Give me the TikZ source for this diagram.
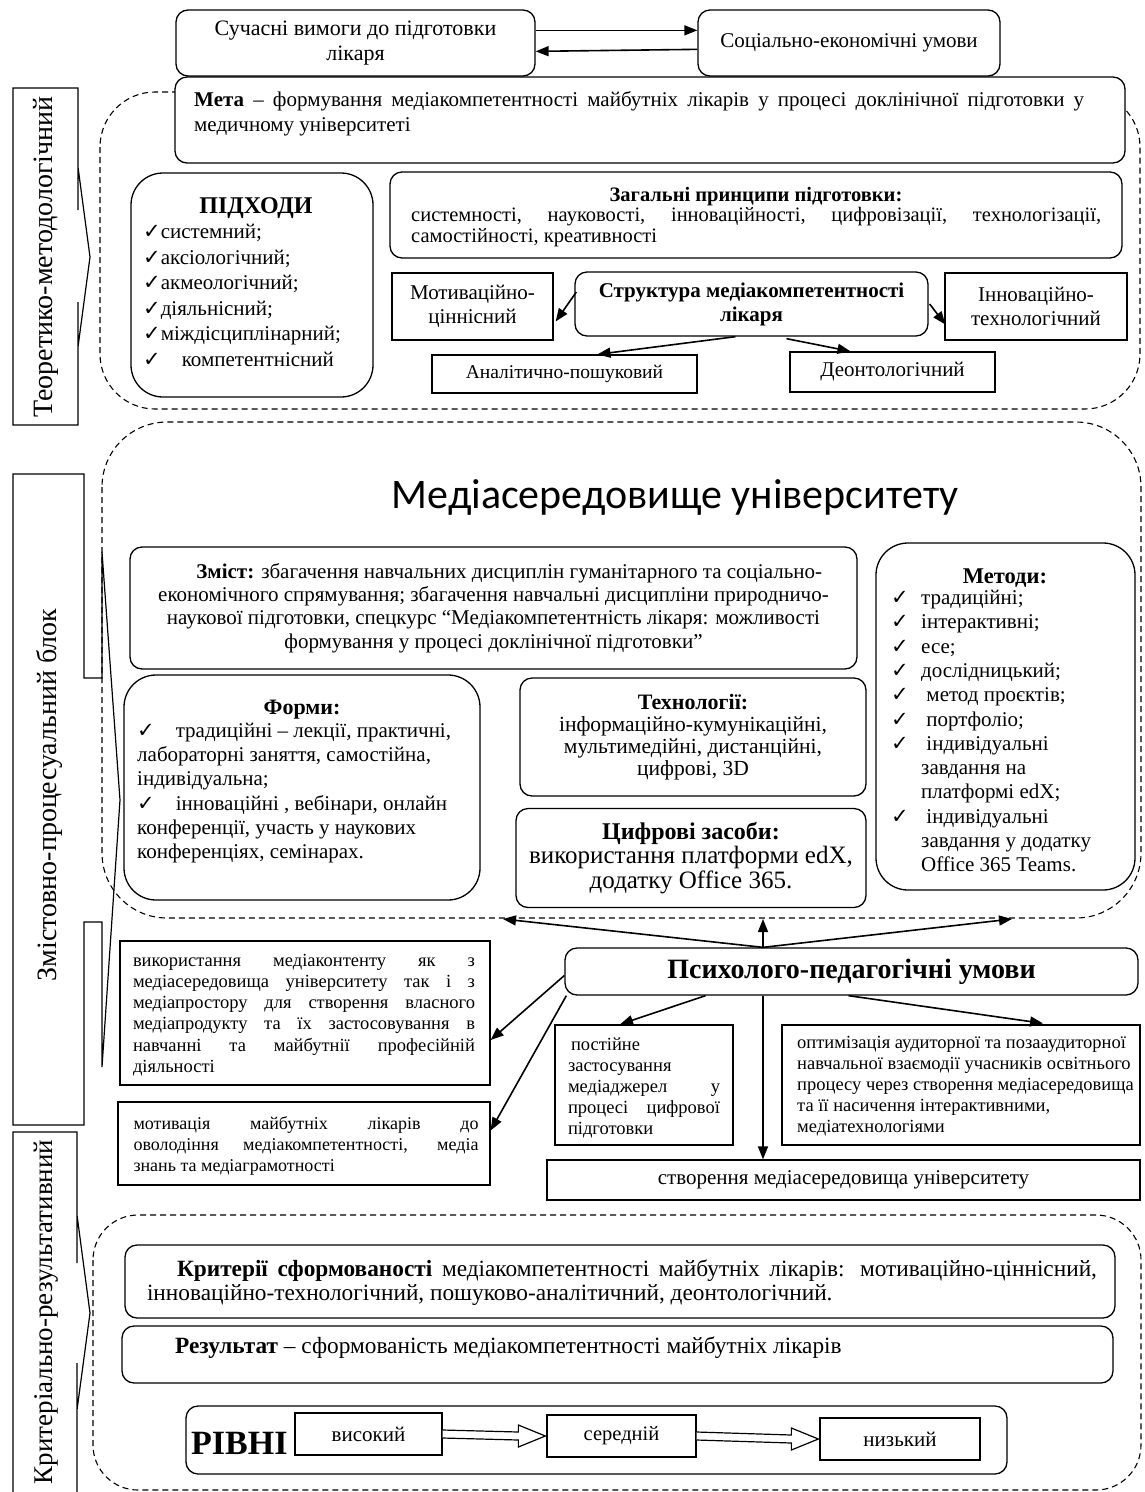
\documentclass[tikz,border=0pt]{standalone}
\usepackage{fontspec}
\setmainfont{Liberation Serif}
\newfontfamily\carlito{Carlito}
\newfontfamily\dejavu{DejaVu Sans}
\usetikzlibrary{arrows.meta,calc}
\newcommand\chk{{\dejavu\symbol{"2713}}}
\newcommand\fs[2]{\fontsize{#1}{#2}\selectfont}
\newcommand\ck{\makebox[30pt][l]{\chk}}
\newcommand\ind{\hspace*{30pt}}
\begin{document}
\begin{tikzpicture}[x=1pt,y=-1pt,
  box/.style={draw, line width=1.3pt, fill=white, inner sep=0pt, align=center},
  rbox/.style={box, rounded corners=12pt},
  rrbox/.style={box, rounded corners=32pt},
  region/.style={draw, dash pattern=on 6pt off 4pt, line width=1.1pt, rounded corners=55pt},
  arr/.style={line width=1.6pt, -{Triangle[length=13pt,width=10pt]}},
  lbl/.style={inner sep=0pt},
  side/.style={line width=1.2pt, line join=miter},
  hollow/.style={draw, line width=1.2pt, fill=white, line join=miter}]
\useasboundingbox (0,0) rectangle (1145,1492);

% ---------- left side labels ----------
\draw[side] (13,88) -- (78,88) -- (78,210) -- (78,167) -- (90,257) -- (78,347) -- (78,302) -- (78,425) -- (13,425) -- cycle;
\node[lbl, rotate=90, font=\fs{28}{30}] (lab1) at (46,257) {Теоретико-методологічний};
\draw[side] (13,474) -- (84,474) -- (84,678) -- (102,678) -- (102,552) -- (120,800) -- (102,1067) -- (102,922) -- (84,922) -- (84,1125) -- (13,1125) -- cycle;
\node[lbl, rotate=90, font=\fs{28}{30}] (lab2) at (49,795) {Змістовно-процесуальний блок};
\draw[side] (13,1132) -- (77,1132) -- (77,1263) -- (77,1215) -- (90,1313) -- (77,1410) -- (77,1363) -- (77,1500) -- (13,1500) -- cycle;
\node[lbl, rotate=90, font=\fs{27}{30}] (lab3) at (46,1312) {Критеріально-результативний};

% ---------- dashed regions ----------
\draw[region] (100,92) rectangle (1140,409);
\draw[region, rounded corners=65pt] (102,422) rectangle (1141,918);
\draw[region, rounded corners=45pt] (93,1215) rectangle (1141,1490);

% ---------- top ----------
\node[rbox, minimum width=359pt, minimum height=66pt, font=\fs{22}{25}] (req) at (355.5,43) {Сучасні вимоги до підготовки\\лікаря};
\node[rbox, minimum width=302pt, minimum height=66pt, font=\fs{21}{24}] (soc) at (849,43) {Соціально-економічні умови};
\draw[arr] ($(req.north east)+(0,21)$) -- ($(soc.north west)+(0,21)$);
\draw[arr] ($(soc.north west)+(0,40)$) -- ($(req.north east)+(0,42)$);

% ---------- theoretical block ----------
\node[rbox, minimum width=950pt, minimum height=86pt] (meta) at (650,120) {};
\node[lbl, anchor=north west, text width=890pt, align=justify, font=\fs{21}{25}] (metaT) at (194,91)
  {\textbf{Мета} – формування медіакомпетентності майбутніх лікарів у процесі доклінічної підготовки у\linebreak медичному університеті};

\node[rrbox, minimum width=242pt, minimum height=224pt] (pidh) at (252,285) {};
\node[lbl, font=\bfseries\fs{24}{26}] (pidhT) at (256,208) {ПІДХОДИ};
\node[lbl, anchor=north west, align=left, font=\fs{21}{25.6}] (pidhL) at (143,224)
  {\chk системний;\\ \chk аксіологічний;\\ \chk акмеологічний;\\ \chk діяльнісний;\\ \chk міждісциплінарний;\\ \chk\quad компетентнісний};

\node[rbox, minimum width=732pt, minimum height=86pt] (zag) at (756,215) {};
\node[lbl, font=\bfseries\fs{20.5}{22}] (zagT) at (756,197) {Загальні принципи підготовки:};
\node[lbl, anchor=north west, text width=690pt, align=justify, font=\fs{20.5}{21}] (zagL) at (411,207)
  {системності, науковості, інноваційності, цифровізації, технологізації,\linebreak самостійності, креативності};

\node[box, minimum width=161pt, minimum height=67pt, font=\fs{21}{24}] (motiv) at (472.5,306.5) {Мотиваційно-\\ціннісний};
\node[rbox, minimum width=353pt, minimum height=64pt, font=\bfseries\fs{21}{24}] (strukt) at (751.5,304) {Структура медіакомпетентності\\лікаря};
\node[box, minimum width=182pt, minimum height=67pt, font=\fs{21}{24}] (innov) at (1036,306.5) {Інноваційно-\\технологічний};
\node[box, minimum width=265pt, minimum height=38pt, font=\fs{19.5}{23}] (anal) at (564.5,374) {Аналітично-пошуковий};
\node[box, minimum width=205pt, minimum height=40pt, font=\fs{21}{23}] (deon) at (892.5,372) {Деонтологічний};
\draw[arr] ($(strukt.west)+(2,-12)$) -- ($(motiv.east)+(2,15)$);
\draw[arr] ($(strukt.east)+(1,0)$) -- ($(innov.west)+(1,18)$);
\draw[arr] ($(strukt.south)+(-16,0)$) -- ($(anal.north)+(33,0)$);
\draw[arr] ($(strukt.south)+(35,2)$) -- ($(deon.north)+(-42,0)$);

% ---------- media block ----------
\node[lbl, font=\carlito\fs{42}{46}] (media) at (675,497) {Медіасередовище університету};

\node[rbox, minimum width=727pt, minimum height=122pt, font=\fs{21}{23.3}] (zmist) at (493.5,608)
  {\hspace*{1.5em}\textbf{Зміст:} збагачення навчальних дисциплін гуманітарного та соціально-\\
   економічного спрямування; збагачення навчальні дисципліни природничо-\\
   наукової підготовки, спецкурс “Медіакомпетентність лікаря: можливості\\
   формування у процесі доклінічної підготовки”};

\node[rrbox, minimum width=259pt, minimum height=347pt] (metody) at (1005.5,716.5) {};
\node[lbl, font=\bfseries\fs{22.5}{24}] (metodyT) at (1005,578) {Методи:};
\node[lbl, anchor=north west, align=left, font=\fs{21}{24.3}] (metodyL) at (891,590)
  {\ck традиційні;\\ \ck інтерактивні;\\ \ck есе;\\ \ck дослідницький;\\ \ck\ метод проєктів;\\ \ck\ портфоліо;\\
   \ck\ індивідуальні\\ \ind завдання на\\ \ind платформі edX;\\ \ck\ індивідуальні\\ \ind завдання у додатку\\ \ind Office 365 Teams.};

\node[rrbox, minimum width=356pt, minimum height=225pt] (formy) at (302,787.5) {};
\node[lbl, font=\bfseries\fs{22}{24}] (formyT) at (302,710) {Форми:};
\node[lbl, anchor=north west, align=left, font=\fs{21}{24.2}] (formyL) at (137,723)
  {\chk\quad традиційні – лекції, практичні,\\ лабораторні заняття, самостійна,\\ індивідуальна;\\
   \chk\quad інноваційні , вебінари, онлайн\\ конференції, участь у наукових\\ конференціях, семінарах.};

\node[rbox, minimum width=346pt, minimum height=118pt, font=\fs{21.5}{21.8}] (tech) at (693,737)
  {{\bfseries\fs{22}{25}Технології:}\\ інформаційно-кумунікаційні,\\ мультимедійні, дистанційні,\\ цифрові, 3D};
\node[rbox, minimum width=350pt, minimum height=99pt, font=\fs{25}{24.5}] (cyfr) at (691,858)
  {{\bfseries\fs{24}{24.5}Цифрові засоби:}\\ використання платформи edX,\\ додатку Office 365.};

% ---------- psychological-pedagogical conditions ----------
\node[rbox, minimum width=573pt, minimum height=47pt, font=\bfseries\fs{28}{30}] (psych) at (851.5,971.5) {Психолого-педагогічні умови};
\coordinate (pTop) at ($(psych.north)+(-88.5,0)$);
\coordinate (upC) at (763,919);
\coordinate (upL) at (503,919);
\coordinate (upR) at (1012,919);
\draw[arr] (pTop) -- (upC);
\draw[arr] (pTop) -- (upL);
\draw[arr] (pTop) -- (upR);

\node[box, minimum width=370pt, minimum height=144pt] (vykor) at (305,1013) {};
\node[lbl, text width=342pt, align=justify, font=\fs{18.5}{21.3}] (vykorT) at (304,1015)
  {використання медіаконтенту як з\linebreak медіасередовища університету так і з\linebreak медіапростору для створення власного\linebreak медіапродукту та їх застосовування в\linebreak навчанні та майбутнії професійній\linebreak діяльності};
\node[box, minimum width=372pt, minimum height=83pt] (motyv) at (304,1143.5) {};
\node[lbl, text width=345pt, align=justify, font=\fs{18}{21}] (motyvT) at (306,1146)
  {мотивація майбутніх лікарів до\linebreak оволодіння медіакомпетентності, медіа\linebreak знань та медіаграмотності};
\node[box, minimum width=178pt, minimum height=120pt] (post) at (644,1085) {};
\node[lbl, text width=152pt, align=justify, font=\fs{18.5}{21}] (postT) at (644,1088)
  {\hspace*{3pt}постійне\\ застосування\\ медіаджерел у\linebreak процесі цифрової\linebreak підготовки};
\node[box, minimum width=358pt, minimum height=120pt] (optym) at (961,1085) {};
\node[lbl, anchor=west, align=left, font=\fs{18.5}{21}] (optymT) at (797,1086)
  {оптимізація аудиторної та позааудиторної\\ навчальної взаємодії учасників освітнього\\ процесу через створення медіасередовища\\ та її насичення інтерактивними,\\ медіатехнологіями};
\node[box, minimum width=593pt, minimum height=40pt, font=\fs{21}{22}] (stvor) at (843.5,1180) {створення медіасередовища університету};

\draw[arr] ($(psych.west)+(0,4)$) -- ($(vykor.east)+(0,27)$);
\draw[arr] ($(psych.south west)+(2,0)$) -- ($(motyv.east)+(0,-13)$);
\draw[arr] ($(psych.south)+(-146,0)$) -- ($(post.north)+(-24,0)$);
\draw[arr] (psych.south -| pTop) -- (stvor.north -| pTop);
\draw[arr] ($(psych.south)+(-3,0)$) -- ($(optym.north)+(82,-1)$);

% ---------- criterial block ----------
\node[rbox, minimum width=990pt, minimum height=73pt] (krit) at (620,1281.5) {};
\node[lbl, text width=950pt, align=justify, font=\fs{23.3}{24}] (kritT) at (622,1283)
  {\hspace*{30pt}\textbf{Критерії сформованості} медіакомпетентності майбутніх лікарів: мотиваційно-ціннісний,\linebreak інноваційно-технологічний, пошуково-аналітичний, деонтологічний.};
\node[rbox, minimum width=991pt, minimum height=57pt] (rez) at (617.5,1354.5) {};
\node[lbl, anchor=west, font=\fs{23.3}{24}] (rezT) at (175,1348) {\textbf{Результат} – сформованість медіакомпетентності майбутніх лікарів};

\node[rbox, minimum width=821pt, minimum height=68pt] (rivni) at (596.5,1440) {};
\node[lbl, anchor=west, font=\bfseries\fs{34}{36}] (rivniT) at (191,1443) {РІВНІ};
\node[box, minimum width=147pt, minimum height=42pt, font=\fs{21}{22}] (vys) at (368.5,1434) {високий};
\node[box, minimum width=149pt, minimum height=42pt, font=\fs{20.5}{22}] (ser) at (621.5,1436) {середній};
\node[box, minimum width=160pt, minimum height=42pt, font=\fs{21}{22}] (niz) at (900,1439) {низький};
\draw[hollow] ($(vys.east)+(0,-4)$) -- ($(ser.west)+(-28,-4)$) -- ($(ser.west)+(-28,-11)$) -- ($(ser.west)+(-1,0)$)
  -- ($(ser.west)+(-28,11)$) -- ($(ser.west)+(-28,4)$) -- ($(vys.east)+(0,4)$);
\draw[hollow] ($(ser.east)+(0,-4)$) -- ($(niz.west)+(-28,-4)$) -- ($(niz.west)+(-28,-11)$) -- ($(niz.west)+(-1,0)$)
  -- ($(niz.west)+(-28,11)$) -- ($(niz.west)+(-28,4)$) -- ($(ser.east)+(0,4)$);
\end{tikzpicture}
\end{document}
